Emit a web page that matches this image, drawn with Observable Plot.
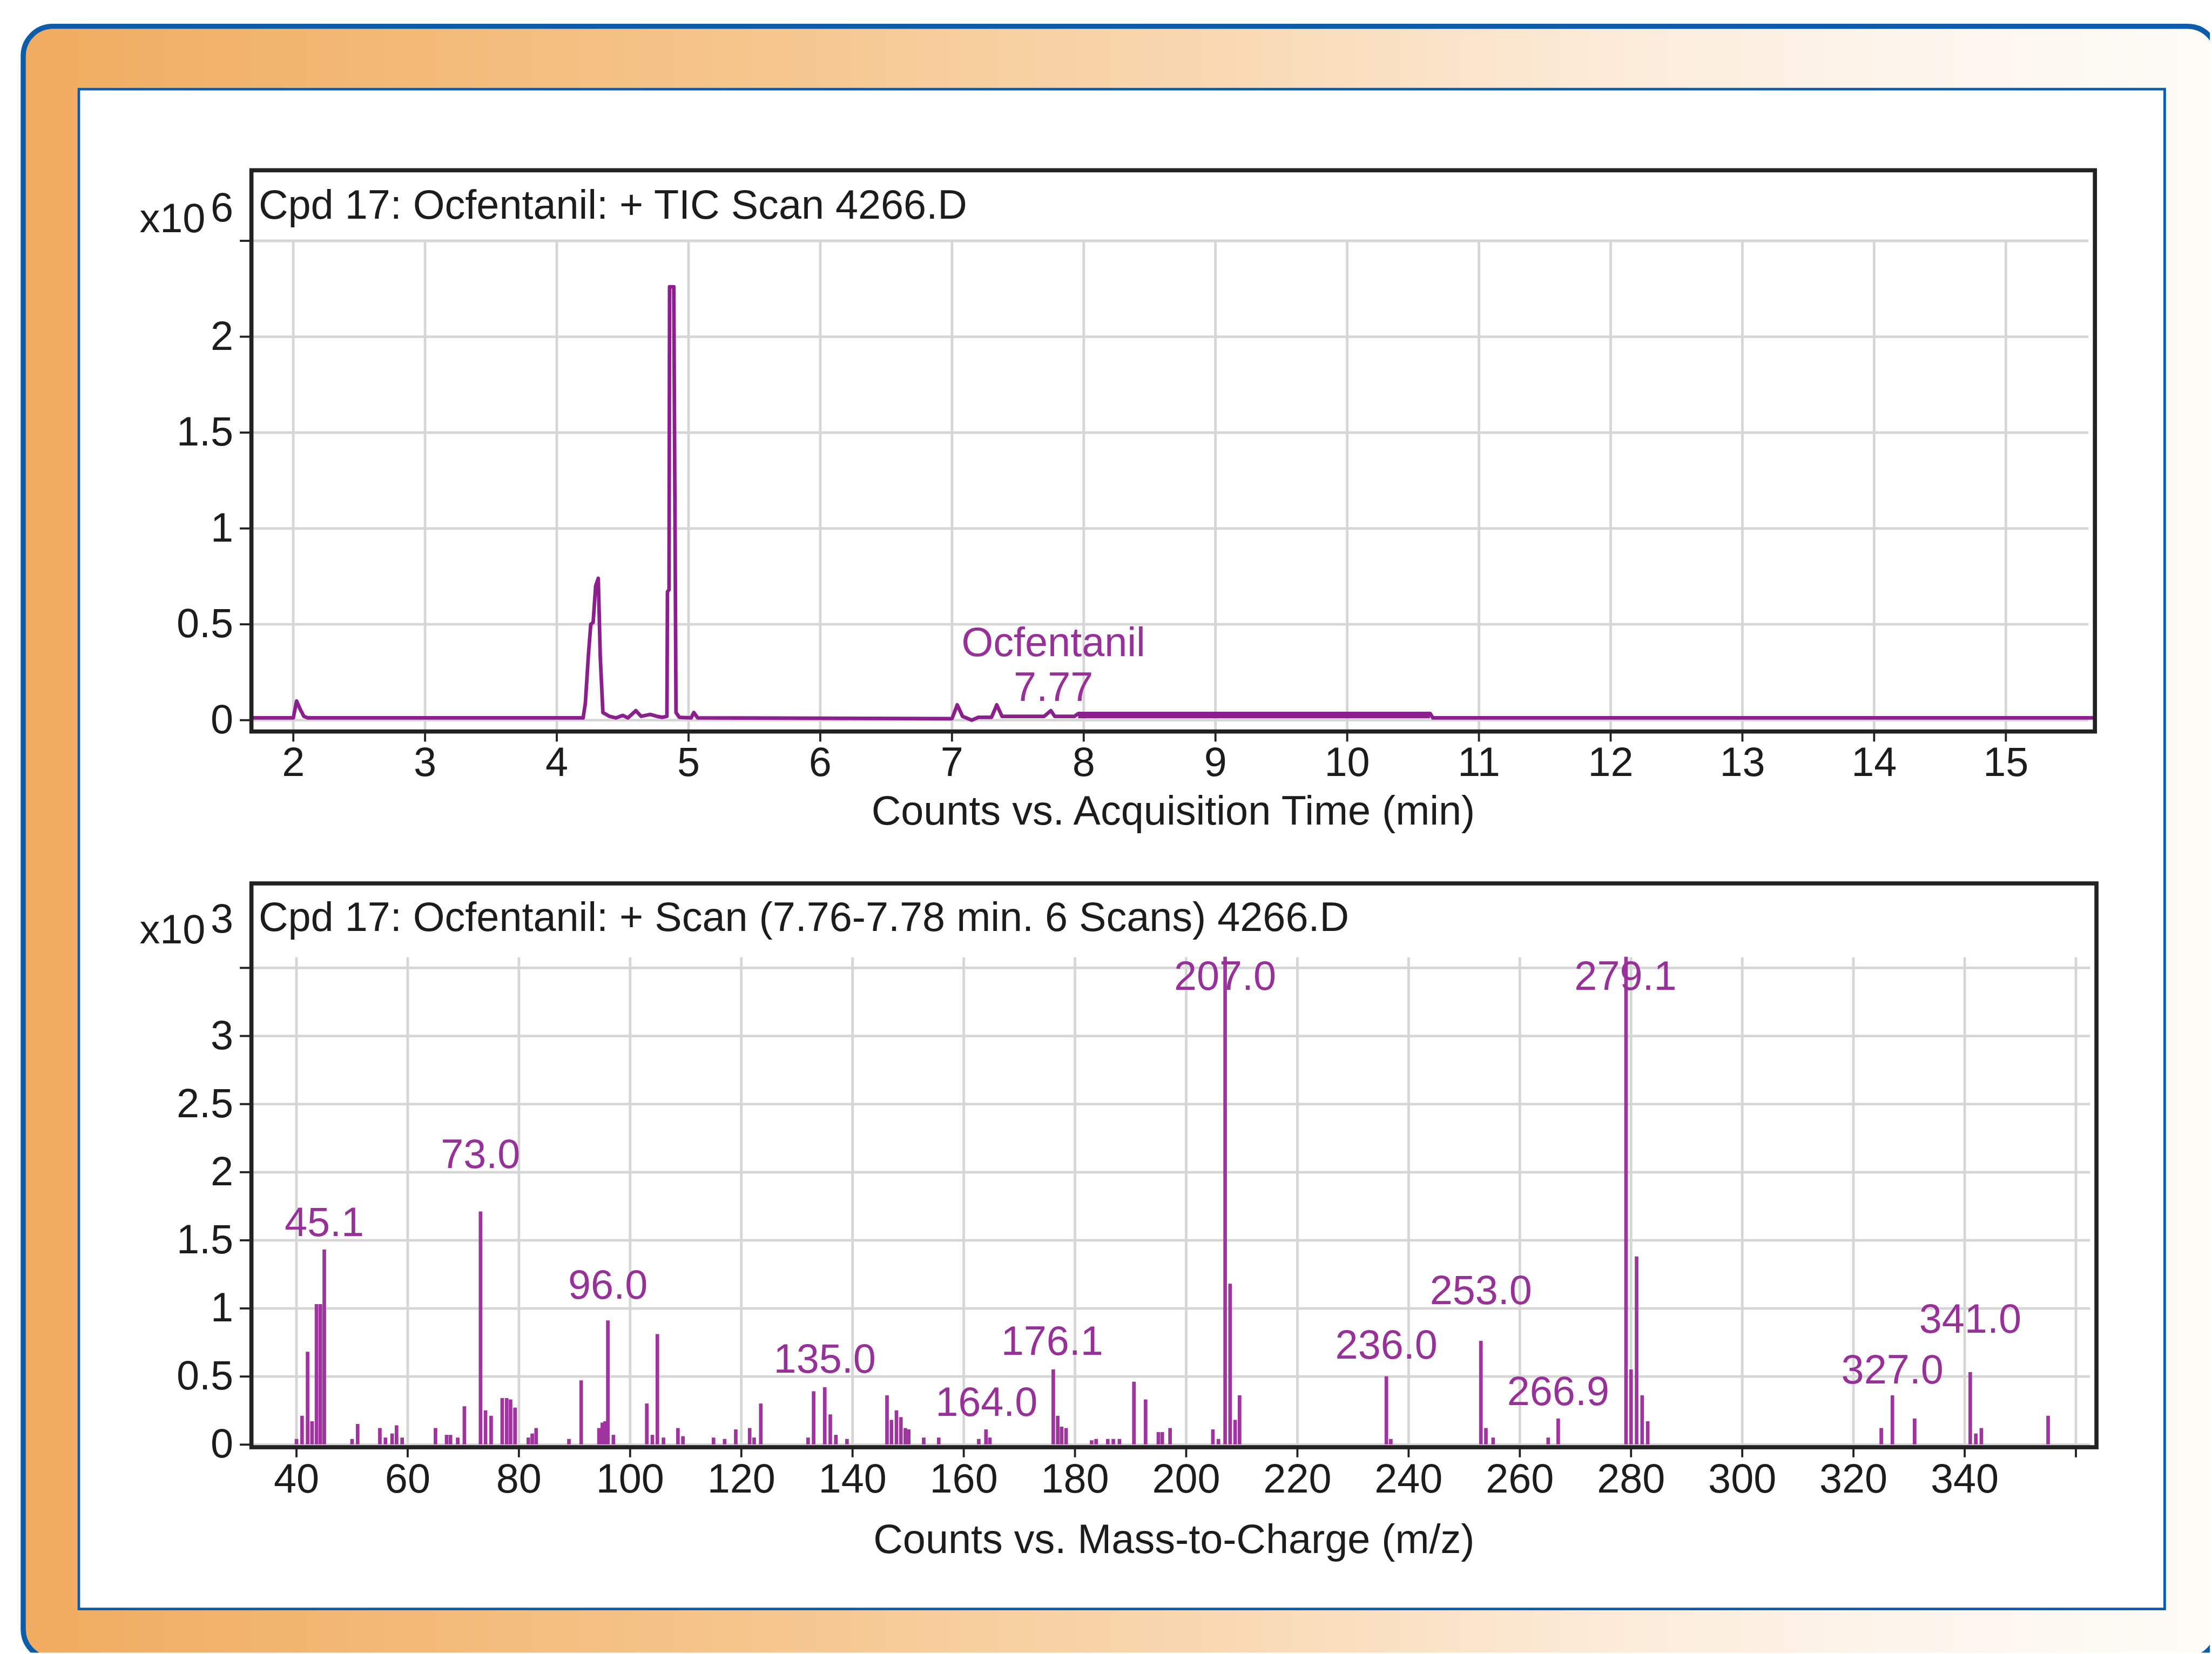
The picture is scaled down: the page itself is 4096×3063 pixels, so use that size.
<!DOCTYPE html>
<html><head><meta charset="utf-8">
<script src="https://cdn.jsdelivr.net/npm/d3@7"></script>
<script src="https://cdn.jsdelivr.net/npm/@observablehq/plot@0.6"></script>
<style>
html,body{margin:0;padding:0;background:#fff;overflow:hidden;width:4096px;height:3063px;}
#stage{position:absolute;left:0;top:0;width:4276px;height:3198px;transform:scale(0.957);transform-origin:0 0;overflow:hidden;}
#outer{position:absolute;left:40px;top:46px;width:4255px;height:3169px;box-sizing:border-box;border:10px solid #0B5CAB;border-radius:62px;
 background:linear-gradient(to right,#F0AC60 0%,#F3BA78 18%,#F6C891 36%,#F9D9B3 55%,#FCEBD8 72%,#FDF5EC 86%,#FEFCF8 100%);}
#panel{position:absolute;left:150px;top:170px;width:4041px;height:2946px;box-sizing:border-box;border:5px solid #0B5CAB;background:#fff;}
.chart{position:absolute;left:150px;width:4041px;}
.chart svg{max-width:none;overflow:visible;}
</style></head>
<body>
<div id="stage">
  <div id="outer"></div>
  <div id="panel"></div>
  <div id="top" class="chart" style="top:170px;"></div>
  <div id="bottom" class="chart" style="top:1670px;"></div>
</div>
<script>
// ---------- TIC chromatogram (counts x10^6 vs. minutes) ----------
const ticTitle = "Cpd 17: Ocfentanil: + TIC Scan 4266.D";
const ticXTitle = "Counts vs. Acquisition Time (min)";
const ticTime = [1.682, 2.00, 2.025, 2.05, 2.08, 2.11, 4.20, 4.217, 4.24, 4.258, 4.276, 4.295, 4.315, 4.33, 4.35,
  4.40, 4.45, 4.50, 4.54, 4.60, 4.64, 4.71, 4.76, 4.80, 4.836, 4.84, 4.852, 4.856, 4.888, 4.905, 4.93,
  5.02, 5.04, 5.07, 7.00, 7.04, 7.08, 7.15, 7.20, 7.30, 7.34, 7.38, 7.70, 7.75, 7.78, 7.93, 7.96, 10.63, 10.65, 15.676];
const ticCounts = [0.012, 0.012, 0.10, 0.06, 0.02, 0.012, 0.012, 0.09, 0.34, 0.50, 0.51, 0.70, 0.74, 0.33, 0.04,
  0.02, 0.012, 0.025, 0.012, 0.05, 0.02, 0.03, 0.02, 0.015, 0.02, 0.67, 0.68, 2.26, 2.26, 0.04, 0.015,
  0.012, 0.04, 0.012, 0.008, 0.08, 0.02, 0.0, 0.015, 0.015, 0.08, 0.02, 0.02, 0.05, 0.02, 0.02, 0.035, 0.035, 0.012, 0.012];
const plateauTime = [7.96, 10.63];
const plateauLow = [0.008, 0.008];
const plateauHigh = [0.035, 0.035];
const ticPeakTime = [7.77];
const ticPeakName = ["Ocfentanil"];
const ticPeakNameHeight = [0.335];
const ticPeakRT = ["7.77"];
const ticPeakRTHeight = [0.10];
const ticXTicks = [2,3,4,5,6,7,8,9,10,11,12,13,14,15];
const ticYTicks = [0,0.5,1,1.5,2,2.5];
const ticYLabels = ["0","0.5","1","1.5","2",""];
const ticXDomain = [1.682, 15.676];
const ticYDomain = [-0.059, 2.868];
const ticExponent = "6";

// ---------- Mass spectrum (counts x10^3 vs. m/z) ----------
const msTitle = "Cpd 17: Ocfentanil: + Scan (7.76-7.78 min. 6 Scans) 4266.D";
const msXTitle = "Counts vs. Mass-to-Charge (m/z)";
const msMz = [40, 41, 42, 42.8, 43.6, 44.3, 45.0, 50, 51, 55, 56, 57.2, 58, 59, 65, 67, 67.7, 69, 70.2, 73.1,
  74, 75, 77, 77.8, 78.5, 79.3, 81.7, 82.4, 83.1, 89, 91.2, 94.4, 95, 95.5, 96.0, 97, 103, 104, 104.9, 106,
  108.6, 109.5, 115, 117, 119, 121.5, 122.3, 123.5, 132, 133, 135, 136, 137, 139, 146.2, 147, 147.9, 148.7, 149.5, 150.1,
  152.8, 155.5, 162.7, 164.0, 164.7, 176.1, 176.9, 177.6, 178.4, 183, 183.8, 185.9, 186.9, 188, 190.6, 192.7, 195, 195.7, 197.1, 204.8,
  205.8, 207.0, 207.9, 208.8, 209.6, 236.0, 236.8, 253.0, 253.9, 255.2, 265.1, 266.9, 279.1, 280.0, 281.0, 282.0, 283.0,
  325, 327, 331, 341, 342, 343, 355];
const msCounts = [0.04, 0.21, 0.68, 0.17, 1.03, 1.03, 1.43, 0.04, 0.15, 0.12, 0.05, 0.08, 0.14, 0.05, 0.12, 0.07, 0.07, 0.05, 0.28, 1.71,
  0.25, 0.21, 0.34, 0.34, 0.33, 0.27, 0.05, 0.08, 0.12, 0.04, 0.47, 0.12, 0.16, 0.17, 0.91, 0.07, 0.30, 0.07, 0.81, 0.05,
  0.12, 0.06, 0.05, 0.04, 0.11, 0.12, 0.05, 0.30, 0.05, 0.39, 0.42, 0.22, 0.07, 0.04, 0.36, 0.18, 0.25, 0.20, 0.12, 0.11,
  0.05, 0.05, 0.04, 0.11, 0.05, 0.55, 0.21, 0.13, 0.12, 0.03, 0.04, 0.04, 0.04, 0.04, 0.46, 0.33, 0.09, 0.09, 0.12, 0.11,
  0.04, 3.58, 1.18, 0.18, 0.36, 0.50, 0.04, 0.76, 0.12, 0.05, 0.05, 0.19, 3.58, 0.55, 1.38, 0.36, 0.17,
  0.12, 0.36, 0.19, 0.53, 0.08, 0.12, 0.21];
const msLabelMz = [45.0, 73.1, 96.0, 135.0, 164.1, 175.9, 207.0, 236.0, 253.0, 266.9, 279.0, 327.0, 341.0];
const msLabelText = ["45.1","73.0","96.0","135.0","164.0","176.1","207.0","236.0","253.0","266.9","279.1","327.0","341.0"];
const msLabelHeight = [1.53, 2.03, 1.07, 0.53, 0.21, 0.66, 3.34, 0.63, 1.03, 0.29, 3.34, 0.45, 0.82];
const msXTicks = [40,60,80,100,120,140,160,180,200,220,240,260,280,300,320,340,360];
const msXLabels = ["40","60","80","100","120","140","160","180","200","220","240","260","280","300","320","340",""];
const msYTicks = [0,0.5,1,1.5,2,2.5,3,3.5];
const msYLabels = ["0","0.5","1","1.5","2","2.5","3",""];
const msXDomain = [31.9, 363.7];
const msYDomain = [-0.019, 4.12];
const msExponent = "3";

// ---------- styling ----------
const TRACE = "#8B1F8E", BAR = "#A0349F", LABEL = "#98309A";
const GRID = "#D6D6D6", INK = "#1c1c1c", FRAME = "#222";
const FONT = "'Liberation Sans', Arial, Helvetica, sans-serif";

function baseStyle() {
  return {fontFamily: FONT, fontSize: "79px", color: INK, background: "transparent", maxWidth: "none", overflow: "visible"};
}
function labelMap(ticks, labels) { const m = new Map(); ticks.forEach((t, i) => m.set(t, labels[i])); return m; }

// ---------- top: TIC ----------
const tic = ticTime.map((t, i) => ({t, v: ticCounts[i]}));
const plateau = plateauTime.map((t, i) => ({t, lo: plateauLow[i], hi: plateauHigh[i]}));
const ticNames = ticPeakTime.map((t, i) => ({t, v: ticPeakNameHeight[i], s: ticPeakName[i]}));
const ticRTs = ticPeakTime.map((t, i) => ({t, v: ticPeakRTHeight[i], s: ticPeakRT[i]}));
const ticYMap = labelMap(ticYTicks, ticYLabels);

const topPlot = Plot.plot({
  width: 4041, height: 1500,
  marginLeft: 336, marginRight: 138, marginTop: 159, marginBottom: 255,
  style: baseStyle(),
  x: {domain: ticXDomain, axis: null},
  y: {domain: ticYDomain, axis: null},
  marks: [
    Plot.ruleY(ticYTicks, {stroke: GRID, strokeWidth: 5, insetRight: 12}),
    Plot.ruleX(ticXTicks, {y1: ticYTicks[ticYTicks.length - 1], y2: ticYDomain[0], stroke: GRID, strokeWidth: 5}),
    Plot.areaY(plateau, {x: "t", y1: "lo", y2: "hi", fill: TRACE}),
    Plot.line(tic, {x: "t", y: "v", stroke: TRACE, strokeWidth: 7, strokeLinejoin: "round"}),
    Plot.text(ticNames, {x: "t", y: "v", text: "s", lineAnchor: "bottom", fill: LABEL}),
    Plot.text(ticRTs, {x: "t", y: "v", text: "s", lineAnchor: "bottom", fill: LABEL}),
    Plot.frame({stroke: FRAME, strokeWidth: 8}),
    Plot.axisY(ticYTicks, {anchor: "left", tickSize: 22, tickPadding: 13, stroke: FRAME, strokeWidth: 4, fill: INK,
      tickFormat: d => ticYMap.get(d), label: null}),
    Plot.axisX(ticXTicks, {anchor: "bottom", tickSize: 20, tickPadding: 10, stroke: FRAME, strokeWidth: 4, fill: INK,
      tickFormat: d => String(d), label: null}),
    Plot.text([ticTitle], {text: d => d, frameAnchor: "top-left", textAnchor: "start", lineAnchor: "bottom", dx: 14, dy: 94, fill: INK}),
    Plot.text(["x10"], {text: d => d, frameAnchor: "top-left", textAnchor: "end", lineAnchor: "bottom", dx: -89, dy: 120, fill: INK}),
    Plot.text([ticExponent], {text: d => d, frameAnchor: "top-left", textAnchor: "end", lineAnchor: "bottom", dx: -35, dy: 99, fill: INK}),
    Plot.text([ticXTitle], {text: d => d, frameAnchor: "bottom", textAnchor: "middle", lineAnchor: "bottom", dy: 180, fill: INK})
  ]
});
document.getElementById("top").appendChild(topPlot);

// ---------- bottom: mass spectrum ----------
const ms = msMz.map((mz, i) => ({mz, v: msCounts[i]}));
const msLabels = msLabelMz.map((mz, i) => ({mz, v: msLabelHeight[i], s: msLabelText[i]}));
const msYMap = labelMap(msYTicks, msYLabels);
const msXMap = labelMap(msXTicks, msXLabels);

const bottomPlot = Plot.plot({
  width: 4041, height: 1446,
  marginLeft: 336, marginRight: 135, marginTop: 39, marginBottom: 316,
  style: baseStyle(),
  x: {domain: msXDomain, axis: null},
  y: {domain: msYDomain, axis: null},
  marks: [
    Plot.ruleY(msYTicks, {stroke: GRID, strokeWidth: 5, insetRight: 12}),
    Plot.ruleX(msXTicks, {y1: msYTicks[msYTicks.length - 1], y2: msYDomain[0], stroke: GRID, strokeWidth: 5, insetTop: -20}),
    Plot.ruleX(ms, {x: "mz", y1: 0, y2: "v", stroke: BAR, strokeWidth: 7}),
    Plot.text(msLabels, {x: "mz", y: "v", text: "s", lineAnchor: "bottom", fill: LABEL}),
    Plot.frame({stroke: FRAME, strokeWidth: 8}),
    Plot.axisY(msYTicks, {anchor: "left", tickSize: 22, tickPadding: 13, stroke: FRAME, strokeWidth: 4, fill: INK,
      tickFormat: d => msYMap.get(d), label: null}),
    Plot.axisX(msXTicks, {anchor: "bottom", tickSize: 20, tickPadding: 12, stroke: FRAME, strokeWidth: 4, fill: INK,
      tickFormat: d => msXMap.get(d), label: null}),
    Plot.text([msTitle], {text: d => d, frameAnchor: "top-left", textAnchor: "start", lineAnchor: "bottom", dx: 14, dy: 92, fill: INK}),
    Plot.text(["x10"], {text: d => d, frameAnchor: "top-left", textAnchor: "end", lineAnchor: "bottom", dx: -89, dy: 116, fill: INK}),
    Plot.text([msExponent], {text: d => d, frameAnchor: "top-left", textAnchor: "end", lineAnchor: "bottom", dx: -35, dy: 95, fill: INK}),
    Plot.text([msXTitle], {text: d => d, frameAnchor: "bottom", textAnchor: "middle", lineAnchor: "bottom", dy: 205, fill: INK})
  ]
});
document.getElementById("bottom").appendChild(bottomPlot);
</script>
</body></html>
